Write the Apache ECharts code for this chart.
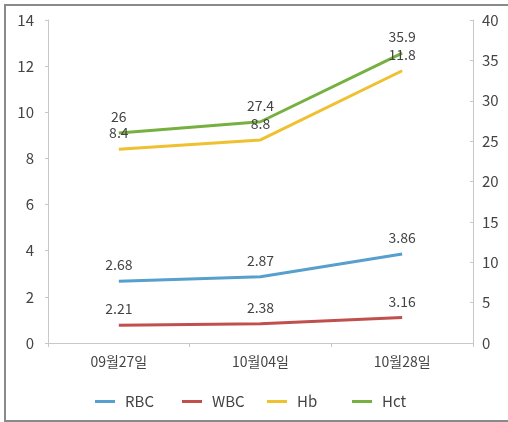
<!DOCTYPE html>
<html><head><meta charset="utf-8">
<script src="https://cdn.jsdelivr.net/npm/echarts@6/dist/echarts.min.js"></script>
<style>
html,body{margin:0;padding:0;background:#fff;}
#wrap{position:relative;width:508px;height:422px;}
#chart{position:absolute;left:0;top:0;width:508px;height:422px;}
#frame{position:absolute;left:4px;top:4px;width:510px;height:414px;border:2px solid #8a8a8a;border-right:none;pointer-events:none;}
</style></head>
<body><div id="wrap"><div id="chart"></div><div id="frame"></div></div>
<script>
const categories = ['09월27일', '10월04일', '10월28일'];
const seriesNames = ['RBC', 'WBC', 'Hb', 'Hct'];
const rbc = [2.68, 2.87, 3.86];
const wbc = [2.21, 2.38, 3.16];
const hb = [8.4, 8.8, 11.8];
const hct = [26, 27.4, 35.9];

const font = '"Noto Sans CJK KR", "Noto Sans", sans-serif';
const lbl = {show:true, position:'top', distance:9, color:'#444', fontSize:14, fontFamily:font};
function s(name, data, color, yi){
  return {name, type:'line', data, yAxisIndex:yi, symbol:'circle', symbolSize:0.1, showSymbol:true,
    lineStyle:{width:3, color}, itemStyle:{color}, label:lbl};
}
const legendLeft = [90, 177, 262, 347];
const legends = seriesNames.map((n, i) => ({
  top:389, left:legendLeft[i], icon:'rect', itemWidth:20, itemHeight:3,
  textStyle:{fontSize:15, color:'#444', fontFamily:font, padding:[0,0,0,5]},
  data:[n]
}));
const chart = echarts.init(document.getElementById('chart'));
chart.setOption({
  animation:false,
  textStyle:{fontFamily:font},
  grid:{left:48, right:35, top:20, bottom:79},
  legend:legends,
  xAxis:{type:'category', data:categories, boundaryGap:true,
    axisLine:{lineStyle:{color:'#c8c8c8'}}, axisTick:{show:true, length:4, lineStyle:{color:'#c8c8c8'}},
    axisLabel:{fontSize:14, color:'#444', margin:12}},
  yAxis:[
    {type:'value', min:0, max:14, interval:2, position:'left',
     axisLine:{show:true, lineStyle:{color:'#c8c8c8'}}, axisTick:{show:true, length:3, lineStyle:{color:'#c8c8c8'}},
     splitLine:{show:false}, axisLabel:{fontSize:15, color:'#444', margin:14}},
    {type:'value', min:0, max:40, interval:5, position:'right',
     axisLine:{show:true, lineStyle:{color:'#c8c8c8'}}, axisTick:{show:true, inside:true, length:3, lineStyle:{color:'#c8c8c8'}},
     splitLine:{show:false}, axisLabel:{fontSize:15, color:'#444', margin:9}}
  ],
  series:[
    s(seriesNames[0], rbc, '#579fcc', 0),
    s(seriesNames[1], wbc, '#c0504d', 1),
    s(seriesNames[2], hb, '#efc030', 0),
    s(seriesNames[3], hct, '#76b041', 1)
  ]
});
</script></body></html>
